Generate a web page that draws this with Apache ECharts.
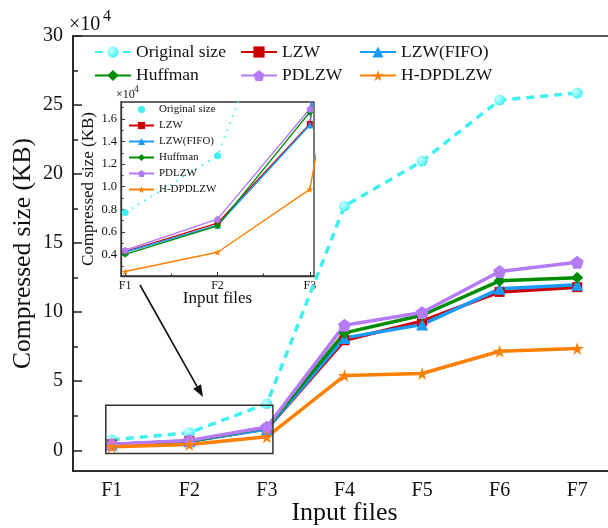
<!DOCTYPE html>
<html>
<head>
<meta charset="utf-8">
<script src="https://cdn.jsdelivr.net/npm/echarts@6/dist/echarts.min.js"></script>
<style>
html, body { margin: 0; padding: 0; background: #fff; }
#main { width: 608px; height: 528px; }
</style>
</head>
<body>
<div id="main"></div>
<script>
// 输入文件
var files = ['F1', 'F2', 'F3', 'F4', 'F5', 'F6', 'F7'];
// 压缩后大小 (KB)
var originalSize = [7710, 12750, 33800, 176800, 209400, 253600, 258700];
var lzw = [4260, 6780, 15560, 79700, 93500, 114700, 118100];
var lzwFifo = [4200, 6600, 15470, 81400, 91000, 116900, 119800];
var huffman = [4020, 6540, 16600, 85000, 97800, 122700, 124900];
var pdlzw = [4380, 7130, 16880, 90600, 99800, 129500, 136200];
var hdpdlzw = [2500, 4200, 9770, 54100, 55600, 71700, 73700];
// 刻度
var mainTicks = [0, 50000, 100000, 150000, 200000, 250000, 300000];
var mainMinorTicks = [25000, 75000, 125000, 175000, 225000, 275000];
var insetTicks = [4000, 6000, 8000, 10000, 12000, 14000, 16000];
var insetMinorTicks = [3000, 5000, 7000, 9000, 11000, 13000, 15000, 17000];
var insetFileTicks = [0, 1, 2];
var insetMinorFileTicks = [0.5, 1.5];

var serif = '"Liberation Serif", "Times New Roman", serif';
var star = 'path://M50,0 L61,35 L98,35 L68,57 L79,91 L50,70 L21,91 L32,57 L2,35 L39,35 Z';
var pentagon = 'path://M50,0 L98,35 L79,91 L21,91 L2,35 Z';

var lines = [
	{ name: 'Original size', data: originalSize, color: '#3ef0f0', symbol: 'circle', size: 11, inset: 7 },
	{ name: 'LZW', data: lzw, color: '#cc0000', symbol: 'rect', size: 10, inset: 6 },
	{ name: 'LZW(FIFO)', data: lzwFifo, color: '#1a9cff', symbol: 'triangle', size: 12, inset: 7 },
	{ name: 'Huffman', data: huffman, color: '#008c00', symbol: 'diamond', size: 12, inset: 7 },
	{ name: 'PDLZW', data: pdlzw, color: '#b57bf7', symbol: pentagon, size: 13, inset: 7 },
	{ name: 'H-DPDLZW', data: hdpdlzw, color: '#ff8000', symbol: star, size: 13, inset: 7 }
];

var chart = echarts.init(document.getElementById('main'));

var series = [];
// 主图
lines.forEach(function (l, i) {
	var ball = i === 0 ? new echarts.graphic.RadialGradient(0.35, 0.35, 0.7, [
		{ offset: 0, color: '#c8ffff' }, { offset: 1, color: l.color }
	]) : l.color;
	series.push({
		name: l.name,
		type: 'line',
		xAxisIndex: 0,
		yAxisIndex: 0,
		data: l.data,
		symbol: l.symbol,
		symbolSize: l.size,
		color: l.color,
		itemStyle: { color: ball },
		lineStyle: i === 0 ? { color: l.color, width: 3.5, type: [8, 6] } : { color: l.color, width: 3.5 }
	});
});
// 局部放大图
lines.forEach(function (l, i) {
	series.push({
		name: 'inset ' + l.name,
		type: 'line',
		xAxisIndex: 1,
		yAxisIndex: 2,
		data: l.data.map(function (v, k) { return [k, v]; }),
		symbol: l.symbol,
		symbolSize: l.inset,
		color: l.color,
		itemStyle: { color: l.color },
		lineStyle: i === 0 ? { color: l.color, width: 2, type: [1.5, 6] } : { color: l.color, width: 1.4 }
	});
});

var legendText = { fontSize: 17.5, fontFamily: serif, color: '#111' };
function mainLegend(names, left) {
	return {
		data: names, orient: 'vertical', left: left, top: 43, padding: 0,
		itemWidth: 36, itemHeight: 14, itemGap: 5.5,
		selectedMode: false, textStyle: legendText
	};
}

chart.setOption({
	animation: false,
	backgroundColor: '#fff',
	grid: [
		{ left: 73, top: 36, width: 543, height: 435, outerBoundsMode: 'none', show: true, borderColor: '#222', borderWidth: 1.6 },
		{ left: 121, top: 102, width: 193, height: 174, outerBoundsMode: 'none', show: true, backgroundColor: '#fff', borderColor: '#333', borderWidth: 1.3 }
	],
	legend: [
		mainLegend(['Original size', 'Huffman'], 94),
		mainLegend(['LZW', 'PDLZW'], 240),
		mainLegend(['LZW(FIFO)', 'H-DPDLZW'], 359),
		{
			data: lines.map(function (l, i) {
				var item = { name: 'inset ' + l.name };
				if (i === 0) item.lineStyle = { opacity: 0 };
				return item;
			}),
			orient: 'vertical', left: 128, top: 104, padding: 0,
			itemWidth: 25, itemHeight: 9, itemGap: 5,
			selectedMode: false,
			formatter: function (n) { return n.replace('inset ', ''); },
			textStyle: { fontSize: 11, fontFamily: serif, color: '#111' }
		}
	],
	xAxis: [
		{
			gridIndex: 0, type: 'category', data: files, position: 'bottom',
			axisLine: { onZero: false, lineStyle: { color: '#222', width: 1.6 } },
			axisTick: { inside: true, length: 9, alignWithLabel: true, lineStyle: { color: '#222', width: 1.5 } },
			axisLabel: { margin: 10, fontSize: 20, fontFamily: serif, color: '#111' },
			splitLine: { show: false },
			name: 'Input files', nameLocation: 'middle', nameGap: 29, nameMoveOverlap: false,
			nameTextStyle: { fontSize: 26, fontFamily: serif, color: '#111' }
		},
		{
			gridIndex: 1, type: 'value', min: -0.045, max: 2.045, position: 'bottom',
			axisLine: { onZero: false, lineStyle: { color: '#333', width: 1.3 } },
			axisTick: { inside: true, length: 4, customValues: insetFileTicks, lineStyle: { color: '#333' } },
			axisLabel: {
				customValues: insetFileTicks, margin: 4, fontSize: 12, fontFamily: serif, color: '#111',
				formatter: function (v) { return files[Math.round(v)]; }
			},
			splitLine: { show: false },
			name: 'Input files', nameLocation: 'middle', nameGap: 14, nameMoveOverlap: false,
			nameTextStyle: { fontSize: 17, fontFamily: serif, color: '#111' }
		},
		{
			gridIndex: 1, type: 'value', min: -0.045, max: 2.045, position: 'bottom',
			axisLine: { show: false, onZero: false },
			axisTick: { inside: true, length: 2.5, customValues: insetMinorFileTicks, lineStyle: { color: '#333' } },
			axisLabel: { show: false },
			splitLine: { show: false }
		}
	],
	yAxis: [
		{
			gridIndex: 0, type: 'value', min: -15000, max: 300000, position: 'left',
			axisLine: { show: true, onZero: false, lineStyle: { color: '#222', width: 1.6 } },
			axisTick: { show: true, inside: true, length: 9, customValues: mainTicks, lineStyle: { color: '#222', width: 1.5 } },
			axisLabel: {
				customValues: mainTicks, margin: 10, fontSize: 20, fontFamily: serif, color: '#111',
				formatter: function (v) { return v / 10000; }
			},
			splitLine: { show: false },
			name: 'Compressed size (KB)', nameLocation: 'middle', nameGap: 37, nameMoveOverlap: false,
			nameTextStyle: { fontSize: 25.5, fontFamily: serif, color: '#111' }
		},
		{
			gridIndex: 0, type: 'value', min: -15000, max: 300000, position: 'left',
			axisLine: { show: false, onZero: false },
			axisTick: { show: true, inside: true, length: 5, customValues: mainMinorTicks, lineStyle: { color: '#222', width: 1.5 } },
			axisLabel: { show: false },
			splitLine: { show: false }
		},
		{
			gridIndex: 1, type: 'value', min: 2100, max: 17500, position: 'left',
			axisLine: { show: true, onZero: false, lineStyle: { color: '#333', width: 1.3 } },
			axisTick: { show: true, inside: true, length: 4, customValues: insetTicks, lineStyle: { color: '#333' } },
			axisLabel: {
				customValues: insetTicks, margin: 4, fontSize: 12.5, fontFamily: serif, color: '#111',
				formatter: function (v) { return (v / 10000).toFixed(1); }
			},
			splitLine: { show: false },
			name: 'Compressed size (KB)', nameLocation: 'middle', nameGap: 24, nameMoveOverlap: false,
			nameTextStyle: { fontSize: 17, fontFamily: serif, color: '#111' }
		},
		{
			gridIndex: 1, type: 'value', min: 2100, max: 17500, position: 'left',
			axisLine: { show: false, onZero: false },
			axisTick: { show: true, inside: true, length: 2.5, customValues: insetMinorTicks, lineStyle: { color: '#333' } },
			axisLabel: { show: false },
			splitLine: { show: false }
		}
	],
	series: series
});

// 放大区域框和箭头
var p0 = chart.convertToPixel({ xAxisIndex: 0, yAxisIndex: 0 }, [0, -2400]);
var p1 = chart.convertToPixel({ xAxisIndex: 0, yAxisIndex: 0 }, [2, 32600]);
var from = [140, 285], tip = [203, 397];
var dx = tip[0] - from[0], dy = tip[1] - from[1], len = Math.sqrt(dx * dx + dy * dy);
var ux = dx / len, uy = dy / len, hl = 12, hw = 4.5;
var bx = tip[0] - ux * hl, by = tip[1] - uy * hl;

chart.setOption({
	graphic: [
		{ type: 'text', left: 69, top: 15, z: 10, style: { text: '×10', font: '20px ' + serif, fill: '#111' } },
		{ type: 'text', left: 103, top: 9, z: 10, style: { text: '4', font: '16px ' + serif, fill: '#111' } },
		{ type: 'text', left: 116, top: 89, z: 10, style: { text: '×10', font: '12px ' + serif, fill: '#111' } },
		{ type: 'text', left: 134, top: 84, z: 10, style: { text: '4', font: '9.5px ' + serif, fill: '#111' } },
		{
			type: 'rect', z: 10,
			shape: { x: p0[0] - 6, y: p1[1], width: p1[0] - p0[0] + 12, height: p0[1] - p1[1] },
			style: { fill: 'none', stroke: '#333', lineWidth: 1.5 }
		},
		{
			type: 'line', z: 10,
			shape: { x1: from[0], y1: from[1], x2: bx, y2: by },
			style: { stroke: '#111', lineWidth: 1.6 }
		},
		{
			type: 'polygon', z: 10,
			shape: { points: [tip, [bx - uy * hw, by + ux * hw], [bx + uy * hw, by - ux * hw]] },
			style: { fill: '#111' }
		}
	]
});
</script>
</body>
</html>
